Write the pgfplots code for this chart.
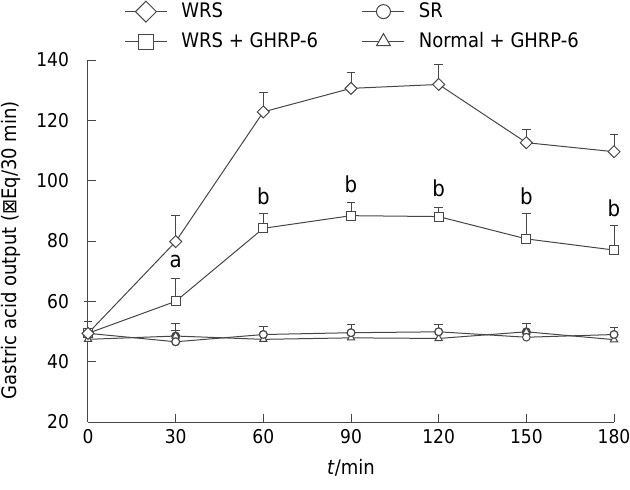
\documentclass[border=0pt]{standalone}
\usepackage{fontspec}
\setmainfont{DejaVu Sans Condensed}
\usepackage{pgfplots}
\pgfplotsset{compat=1.18}
\definecolor{ln}{RGB}{70,70,70}
\begin{document}
\begin{tikzpicture}[font=\fontsize{9.5}{11}\selectfont]
\path[use as bounding box] (-44pt,-33.5pt) rectangle (271pt,211pt);
\begin{axis}[
 at={(0,0)}, anchor=south west,
 scale only axis, width=263pt, height=181pt,
 xmin=0, xmax=180, ymin=20, ymax=140,
 axis x line*=bottom, axis y line*=left,
 axis line style={ln, line width=0.5pt, -},
 xtick={0,30,...,180}, ytick={20,40,...,140},
 tick align=inside, major tick length=4pt,
 tick style={ln, line width=0.5pt},
 /pgf/number format/assume math mode=true,
 tick label style={font=\fontsize{9.5}{11}\selectfont},
 yticklabel style={xshift=-6pt},
 xlabel={\textit{t}/min}, ylabel={Gastric acid output (⊠Eq/30 min)},
 label style={font=\fontsize{10}{12}\selectfont},
 xlabel style={at={(axis description cs:0.5,-0.127)}, anchor=center},
 ylabel style={at={(axis description cs:-0.146,0.475)}, anchor=center},
 legend columns=2,
 legend style={at={(axis description cs:0.505,1.092)}, anchor=center, draw=none, fill=none,
   font=\fontsize{10}{12}\selectfont,
   /tikz/every odd column/.append style={column sep=5pt},
   /tikz/every even column/.append style={column sep=20pt}, row sep=2pt},
 legend cell align=left,
 clip=false,
 ser/.style={ln, line width=0.5pt, mark options={fill=white, draw=ln, line width=0.5pt, solid}},
 dia/.style={ln, line width=0.5pt, mark=square*, mark options={rotate=45, fill=white, draw=ln, line width=0.5pt, solid}},
 eb/.style={ln, line width=0.5pt, only marks, mark=none, forget plot,
   error bars/.cd, y dir=plus, y explicit,
   error bar style={draw=ln, line width=0.5pt, solid},
   error mark options={draw=ln, rotate=90, mark size=2.1pt, line width=0.5pt}},
 limg/.style={legend image code/.code={\draw[##1, mark repeat=2, mark phase=2] plot coordinates {(0pt,0pt) (10.5pt,0pt) (21pt,0pt)};}},
]
% error bars (upward only)
\addplot[eb] coordinates {(0,49.4)+-(0,10.5) (30,79.8)+-(0,8.8) (60,122.8)+-(0,6.4) (90,130.6)+-(0,5.3) (120,131.9)+-(0,6.7) (150,112.6)+-(0,4.2) (180,109.6)+-(0,5.8)};
\addplot[eb] coordinates {(0,49.4)+-(0,3.8) (30,60.0)+-(0,7.5) (60,84.2)+-(0,5.0) (90,88.4)+-(0,4.3) (120,88.1)+-(0,2.9) (150,80.7)+-(0,8.3) (180,77.0)+-(0,8.2)};
\addplot[eb] coordinates {(30,46.6)+-(0,3.8) (60,49.0)+-(0,2.5) (90,49.6)+-(0,2.7) (120,49.9)+-(0,2.3) (180,49.0)+-(0,2.3)};
\addplot[eb] coordinates {(30,48.5)+-(0,4.0) (150,49.9)+-(0,2.6)};
% series
\addplot[ser, mark=triangle*, mark size=2.1pt, forget plot] coordinates {(0,47.4) (30,48.5) (60,47.4) (90,47.9) (120,47.7) (150,49.9) (180,47.3)};
\addplot[ser, mark=*, mark size=1.9pt, forget plot] coordinates {(0,49.4) (30,46.6) (60,49.0) (90,49.6) (120,49.9) (150,48.1) (180,49.0)};
\addplot[ser, mark=square*, mark size=2.25pt, forget plot] coordinates {(0,49.4) (30,60.0) (60,84.2) (90,88.4) (120,88.1) (150,80.7) (180,77.0)};
\addplot[dia, mark size=2.12pt, forget plot] coordinates {(0,49.4) (30,79.8) (60,122.8) (90,130.6) (120,131.9) (150,112.6) (180,109.6)};
% legend
\addlegendimage{dia, limg, mark size=3.7pt}
\addlegendentry{WRS}
\addlegendimage{ser, limg, mark=*, mark size=3.5pt}
\addlegendentry{SR}
\addlegendimage{ser, limg, mark=square*, mark size=3.75pt}
\addlegendentry{WRS + GHRP-6}
\addlegendimage{ser, limg, mark=triangle*, mark size=4pt}
\addlegendentry{Normal + GHRP-6}
% significance letters
\node[font=\fontsize{11}{13}\selectfont] at (axis cs:30,73.1) {a};
\node[font=\fontsize{11}{13}\selectfont] at (axis cs:60,94.7) {b};
\node[font=\fontsize{11}{13}\selectfont] at (axis cs:90,98.9) {b};
\node[font=\fontsize{11}{13}\selectfont] at (axis cs:120,97.5) {b};
\node[font=\fontsize{11}{13}\selectfont] at (axis cs:150,94.7) {b};
\node[font=\fontsize{11}{13}\selectfont] at (axis cs:180,90.8) {b};
\end{axis}
\end{tikzpicture}
\end{document}
